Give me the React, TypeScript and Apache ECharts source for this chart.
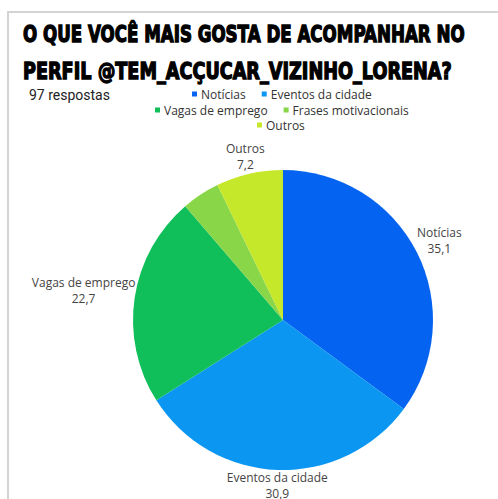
import React, { useEffect, useRef } from "react";
import * as echarts from "echarts";

const categories = ["Notícias", "Eventos da cidade", "Vagas de emprego", "Frases motivacionais", "Outros"];
const values = [35.1, 30.9, 22.7, 4.1, 7.2];
const colors = ["#0464F1", "#0B97F1", "#10BE5A", "#89D649", "#C6E82A"];
const showLabel = [true, true, true, false, true];
const titleLines = ["O QUE VOCÊ MAIS GOSTA DE ACOMPANHAR NO", "PERFIL @TEM_ACÇUCAR_VIZINHO_LORENA?"];
const subtitle = "97 respostas";
const legendRows = [
  ["Notícias", "Eventos da cidade"],
  ["Vagas de emprego", "Frases motivacionais"],
  ["Outros"],
];

const CX = 283;
const CY = 320;
const R = 150;

function measure(text: string, font: string): number {
  const c = document.createElement("canvas");
  const ctx = c.getContext("2d");
  if (!ctx) return 1;
  ctx.font = font;
  return ctx.measureText(text).width || 1;
}

export default function App() {
  const ref = useRef<HTMLDivElement>(null);
  useEffect(() => {
    if (!ref.current) return;
    const chart = echarts.init(ref.current, null, { renderer: "svg" });
    const total = values.reduce((a, b) => a + b, 0);
    const titleFont = "bold 23px 'DejaVu Sans'";
    const targetW = [442, 429];
    const titleGraphics = titleLines.map((t, i) => ({
      type: "text",
      x: 23,
      y: i === 0 ? 34 : 71,
      scaleX: targetW[i] / measure(t, titleFont),
      style: {
        text: t,
        x: 0,
        y: 0,
        font: titleFont,
        fill: "#000",
        stroke: "#000",
        lineWidth: 1.4,
        textVerticalAlign: "middle",
      },
      z: 10,
    }));
    const legendLefts = [192, 155, 257];
    const legendTops = [88, 104, 119];
    chart.setOption({
      animation: false,
      backgroundColor: "#fff",
      color: colors,
      graphic: [
        {
          type: "polyline",
          shape: { points: [[8, 499], [8, 12], [498, 12]] },
          style: { stroke: "#d4d4d4", lineWidth: 2, fill: "none" },
        },
        ...titleGraphics,
        {
          type: "text",
          x: 29,
          y: 95,
          style: {
            text: subtitle,
            font: "14px Roboto",
            fill: "#222",
            textVerticalAlign: "middle",
          },
        },
      ],
      legend: legendRows.map((row, i) => ({
        data: row,
        left: legendLefts[i],
        top: legendTops[i],
        padding: 0,
        itemGap: 16,
        itemWidth: 5,
        itemHeight: 5,
        icon: "rect",
        textStyle: {
          fontFamily: "Open Sans",
          fontSize: 12,
          lineHeight: 12,
          color: "#333",
          padding: [0, 0, 0, -1],
        },
      })),
      series: [
        {
          type: "pie",
          center: [CX, CY],
          radius: R,
          startAngle: 90,
          clockwise: true,
          avoidLabelOverlap: false,
          data: categories.map((name, i) => ({
            name,
            value: values[i],
            label: { show: showLabel[i] },
          })),
          label: {
            show: true,
            position: "outside",
            fontFamily: "Open Sans",
            fontSize: 12,
            lineHeight: 16,
            color: "#444",
            align: "center",
            formatter: (p: any) => `${p.name}\n${Number(p.value).toFixed(1).replace(".", ",")}`,
          },
          labelLine: { show: false },
          labelLayout: (params: any) => {
            const i = params.dataIndex;
            let cum = 0;
            for (let k = 0; k < i; k++) cum += values[k];
            const mid = ((cum + values[i] / 2) / total) * 2 * Math.PI;
            const dx = Math.sin(mid);
            const dy = -Math.cos(mid);
            const w = params.labelRect.width;
            const h = params.labelRect.height;
            const d = R - 2 + Math.abs(dx) * w / 2 + Math.abs(dy) * h / 2;
            return {
              x: CX + dx * d,
              y: CY + dy * d,
              align: "center",
              verticalAlign: "middle",
            };
          },
        },
      ],
    });
    return () => chart.dispose();
  }, []);
  return (
    <div
      ref={ref}
      style={{ position: "absolute", left: 0, top: 0, width: 498, height: 499 }}
    />
  );
}
